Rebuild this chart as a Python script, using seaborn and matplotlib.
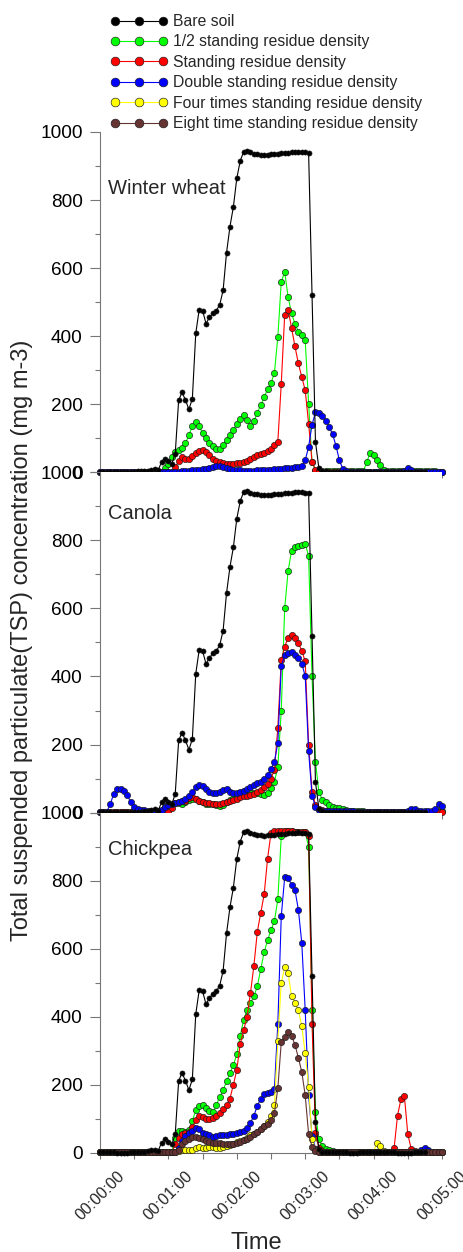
import matplotlib
matplotlib.use("Agg")
import matplotlib.pyplot as plt
from matplotlib.ticker import MultipleLocator, FuncFormatter
import seaborn as sns

sns.set_theme(style="ticks")
plt.rcParams["font.family"] = ["Liberation Sans", "DejaVu Sans"]

# samples every 3 s from 00:00:00 to 00:05:00
TIME_S = list(range(0, 301, 3))
TIME_BARE_S = TIME_S[:96]

# bare soil run is the same reference curve in every panel
BARE_SOIL = [
    2, 2, 2, 2, 2, 1, 1, 1, 1, 2,
    2, 3, 3, 4, 5, 8, 10, 6, 30, 40,
    32, 25, 55, 212, 235, 212, 185, 216, 408, 478,
    475, 437, 455, 468, 475, 492, 535, 645, 722, 780,
    864, 915, 942, 945, 940, 936, 935, 933, 932, 933,
    934, 935, 936, 937, 938, 939, 940, 941, 942, 941,
    940, 938, 520, 90, 12, 4, 3, 2, 2, 2,
    2, 2, 2, 1, 1, 1, 2, 2, 2, 2,
    2, 2, 2, 2, 2, 2, 2, 1, 1, 1,
    1, 1, 2, 2, 2, 2,
]

# winter wheat
HALF_WW = [
    1, 1, 1, 1, 1, 1, 1, 1, 1, 1,
    1, 1, 1, 1, 1, 1, 1, 1, 1, 12,
    25, 45, 60, 65, 70, 85, 110, 135, 147, 135,
    115, 100, 86, 76, 68, 67, 79, 95, 110, 124,
    142, 158, 168, 153, 135, 150, 175, 198, 220, 245,
    262, 292, 398, 560, 589, 515, 467, 437, 413, 403,
    388, 202, 30, 5, 3, 3, 3, 3, 3, 3,
    3, 3, 3, 3, 3, 3, 3, 3, 30, 58,
    52, 35, 20, 8, 3, 3, 3, 3, 3, 3,
    3, 3, 3, 3, 3, 3, 3, 3, 3, 2, 2,
]
STANDING_WW = [
    1, 1, 1, 1, 1, 1, 1, 1, 1, 1,
    1, 1, 1, 1, 1, 1, 1, 1, 1, 1,
    1, 1, 15, 32, 45, 38, 38, 47, 57, 64,
    66, 60, 52, 40, 34, 30, 27, 25, 24, 23,
    26, 28, 30, 34, 40, 46, 50, 54, 58, 62,
    68, 80, 90, 260, 462, 478, 425, 370, 320, 280,
    241, 143, 30, 8, 3, 2, 2, 2, 2, 2,
    2, 2, 2, 2, 2, 2, 2, 2, 2, 2,
    2, 2, 2, 2, 2, 2, 2, 2, 2, 2,
    2, 2, 2, 2, 2, 2, 2, 2, 2, 2, 2,
]
DOUBLE_WW = [
    1, 1, 1, 1, 1, 1, 1, 1, 1, 1,
    1, 1, 1, 1, 1, 1, 1, 1, 1, 1,
    1, 1, 1, 2, 3, 4, 5, 6, 7, 8,
    10, 11, 13, 16, 18, 18, 16, 12, 9, 7,
    6, 6, 5, 5, 5, 5, 6, 6, 6, 7,
    8, 9, 10, 11, 12, 13, 14, 15, 16, 18,
    35, 75, 140, 176, 174, 166, 152, 134, 112, 78,
    35, 10, 3, 2, 2, 2, 2, 2, 2, 2,
    2, 2, 2, 2, 2, 2, 2, 2, 2, 3,
    14, 6, 2, 2, 2, 2, 2, 1, 1, 1, 1,
]

# canola
HALF_CA = [
    2, 2, 2, 2, 2, 2, 2, 2, 2, 2,
    2, 2, 2, 2, 2, 2, 2, 2, 8, 18,
    24, 26, 28, 27, 25, 32, 38, 40, 39, 34,
    30, 26, 24, 24, 23, 19, 22, 30, 37, 43,
    47, 55, 63, 63, 60, 58, 58, 54, 51, 58,
    72, 90, 135, 300, 600, 710, 769, 781, 783, 785,
    790, 754, 400, 150, 60, 38, 30, 22, 18, 15,
    13, 10, 8, 6, 4, 4, 4, 4, 3, 3,
    3, 3, 3, 3, 3, 3, 3, 3, 3, 3,
    3, 3, 3, 3, 3, 3, 3, 3, 4, 4, 4,
]
STANDING_CA = [
    2, 2, 2, 2, 2, 2, 2, 2, 2, 2,
    2, 2, 2, 2, 2, 2, 2, 2, 2, 2,
    2, 15, 28, 32, 33, 35, 42, 45, 40, 33,
    30, 28, 27, 26, 26, 25, 27, 30, 34, 37,
    41, 45, 48, 50, 52, 56, 61, 66, 74, 84,
    100, 125, 250, 448, 488, 514, 523, 514, 499, 475,
    445, 200, 62, 22, 12, 8, 6, 4, 3, 3,
    3, 3, 3, 3, 3, 3, 3, 3, 3, 3,
    3, 3, 3, 3, 3, 3, 3, 3, 3, 3,
    3, 3, 3, 3, 3, 3, 3, 3, 3, 3, 3,
]
DOUBLE_CA = [
    2, 2, 3, 25, 55, 68, 70, 65, 52, 30,
    16, 12, 9, 7, 6, 6, 6, 6, 8, 16,
    22, 25, 28, 31, 33, 40, 50, 60, 74, 82,
    77, 68, 62, 58, 59, 62, 66, 68, 61, 58,
    58, 62, 65, 68, 75, 82, 87, 91, 100, 112,
    128, 150, 205, 430, 462, 470, 472, 463, 455, 438,
    401, 180, 50, 18, 9, 6, 5, 4, 4, 4,
    4, 4, 4, 4, 4, 3, 3, 3, 3, 3,
    3, 3, 3, 3, 3, 3, 3, 3, 3, 3,
    5, 12, 10, 5, 4, 4, 4, 4, 10, 24, 19,
]

# chickpea
HALF_CP = [
    2, 2, 2, 2, 2, 2, 2, 2, 2, 2,
    2, 2, 2, 2, 2, 2, 2, 2, 2, 2,
    2, 2, 45, 65, 65, 63, 68, 95, 125, 138,
    140, 132, 124, 120, 140, 165, 185, 210, 235, 258,
    290, 345, 390, 420, 440, 460, 490, 540, 590, 625,
    655, 682, 745, 930, 945, 945, 945, 944, 944, 944,
    943, 900, 420, 120, 40, 20, 12, 8, 5, 4,
    3, 3, 3, 3, 3, 3, 3, 3, 3, 3,
    3, 3, 3, 3, 3, 3, 3, 3, 3, 3,
    3, 3, 3, 3, 3, 3, 3, 3, 3, 3, 4,
]
STANDING_CP = [
    2, 2, 2, 2, 2, 2, 2, 2, 2, 2,
    2, 2, 2, 2, 2, 2, 2, 2, 2, 2,
    2, 2, 25, 45, 55, 60, 62, 75, 98, 108,
    105, 100, 100, 104, 108, 118, 128, 140, 160, 200,
    245, 320, 360, 400, 470, 550, 650, 705, 760, 865,
    940, 945, 946, 946, 945, 945, 945, 944, 944, 944,
    943, 930, 380, 60, 15, 6, 4, 3, 3, 3,
    3, 3, 3, 3, 3, 3, 3, 3, 3, 3,
    3, 3, 3, 3, 3, 3, 15, 110, 158, 168,
    55, 12, 5, 3, 3, 3, 3, 3, 3, 3, 3,
]
DOUBLE_CP = [
    2, 2, 2, 2, 2, 2, 2, 2, 2, 2,
    2, 2, 2, 2, 2, 2, 2, 2, 2, 2,
    2, 2, 2, 15, 35, 50, 60, 66, 72, 70,
    60, 55, 52, 48, 49, 52, 53, 53, 55, 57,
    60, 62, 66, 74, 88, 110, 138, 160, 172, 177,
    180, 188, 380, 695, 810, 808, 788, 773, 715, 617,
    420, 170, 50, 12, 5, 3, 3, 3, 3, 3,
    3, 3, 3, 3, 3, 3, 3, 3, 3, 3,
    3, 3, 3, 3, 3, 3, 3, 3, 3, 3,
    3, 3, 3, 3, 8, 14, 8, 3, 3, 3, 3,
]
FOUR_CP = [
    2, 2, 2, 2, 2, 2, 2, 2, 2, 2,
    2, 2, 2, 2, 2, 2, 2, 2, 2, 2,
    2, 2, 2, 5, 8, 9, 9, 10, 15, 18,
    16, 14, 17, 18, 15, 15, 18, 20, 23, 27,
    32, 35, 38, 45, 52, 57, 62, 70, 80, 92,
    110, 140, 330, 500, 545, 530, 460, 440, 420, 372,
    293, 195, 40, 10, 4, 3, 3, 3, 3, 3,
    3, 3, 3, 3, 3, 3, 3, 3, 3, 3,
    4, 30, 20, 5, 3, 3, 3, 3, 3, 3,
    3, 3, 3, 3, 3, 3, 3, 3, 3, 3, 3,
]
EIGHT_CP = [
    2, 2, 2, 2, 2, 2, 2, 2, 2, 2,
    2, 2, 2, 2, 2, 2, 2, 2, 2, 2,
    2, 2, 2, 10, 25, 35, 42, 47, 48, 45,
    40, 35, 31, 29, 28, 28, 27, 25, 25, 27,
    30, 33, 37, 42, 48, 55, 63, 71, 78, 86,
    97, 118, 190, 325, 340, 355, 345, 318, 280, 238,
    170, 55, 18, 6, 3, 3, 3, 3, 3, 3,
    3, 3, 3, 3, 3, 3, 3, 3, 3, 3,
    3, 3, 3, 3, 3, 3, 3, 3, 3, 3,
    3, 3, 3, 3, 3, 3, 3, 3, 3, 3, 3,
]

LABELS = [
    "Bare soil",
    "1/2 standing residue density",
    "Standing residue density",
    "Double standing residue density",
    "Four times standing residue density",
    "Eight time standing residue density",
]
COLORS = ["#000000", "#00ff00", "#ff0000", "#0000ff", "#ffff00", "#663333"]

PANELS = [
    ("Winter wheat", 0.835, [HALF_WW, STANDING_WW, DOUBLE_WW]),
    ("Canola", 0.879, [HALF_CA, STANDING_CA, DOUBLE_CA]),
    ("Chickpea", 0.891, [HALF_CP, STANDING_CP, DOUBLE_CP, FOUR_CP, EIGHT_CP]),
]

fig, axes = plt.subplots(3, 1, figsize=(4.64, 12.52), dpi=100, sharex=True)
fig.subplots_adjust(left=0.2155, right=0.9526, bottom=0.0791, top=0.8946, hspace=0)

for ax, (crop, ytxt, series) in zip(axes, PANELS):
    sns.lineplot(
        x=TIME_BARE_S, y=BARE_SOIL, ax=ax, color=COLORS[0], label=LABELS[0],
        marker="o", markersize=3.7, markeredgecolor="k", markeredgewidth=0.4,
        linewidth=0.8, estimator=None, legend=False, clip_on=False, zorder=4,
    )
    for k, vals in enumerate(series, start=1):
        sns.lineplot(
            x=TIME_S, y=vals, ax=ax, color=COLORS[k], label=LABELS[k],
            marker="o", markersize=4.5, markeredgecolor="k", markeredgewidth=0.45,
            linewidth=0.8, estimator=None, legend=False, clip_on=False, zorder=3,
        )
    ax.text(0.024, ytxt, crop, transform=ax.transAxes, va="center", ha="left", fontsize=14.5)

    ax.set_ylim(0, 1000)
    ax.set_xlim(0, 300)
    ax.yaxis.set_major_locator(MultipleLocator(200))
    ax.yaxis.set_minor_locator(MultipleLocator(100))
    ax.xaxis.set_major_locator(MultipleLocator(60))
    ax.xaxis.set_minor_locator(MultipleLocator(30))
    ax.tick_params(axis="y", which="major", direction="out", length=7.5, width=0.8,
                   color="#777777", labelsize=13.7, pad=5, labelcolor="black")
    ax.tick_params(axis="y", which="minor", direction="out", length=3.8, width=0.8, color="#777777")
    ax.tick_params(axis="x", which="both", direction="out", length=4.5, width=0.8, color="#777777")
    sns.despine(ax=ax)
    for side in ("left", "bottom"):
        ax.spines[side].set_color("#777777")
        ax.spines[side].set_linewidth(0.8)
    ax.set_xlabel("")
    ax.set_ylabel("")

axes[2].xaxis.set_major_formatter(
    FuncFormatter(lambda t, pos: f"00:{int(t // 60):02d}:{int(t % 60):02d}"))
axes[2].tick_params(axis="x", which="major", labelrotation=45, labelsize=11.5, pad=6.5)

handles, labels = axes[2].get_legend_handles_labels()
leg = fig.legend(
    handles, labels, loc="upper left", bbox_to_anchor=(110 / 464, 1 - 14 / 1252),
    frameon=False, fontsize=11.3, numpoints=3, handlelength=3.7, handletextpad=0.3,
    labelspacing=0.35, borderpad=0, borderaxespad=0,
)
for h in leg.legend_handles:
    h.set_markersize(6.3)

fig.text(22 / 464, 1 - 640 / 1252, "Total suspended particulate(TSP) concentration (mg m-3)",
         rotation=90, ha="center", va="center", fontsize=17)
fig.text(256 / 464, 1 - 1232 / 1252, "Time", ha="center", va="top", fontsize=17)

fig.savefig("out.png", dpi=100)
